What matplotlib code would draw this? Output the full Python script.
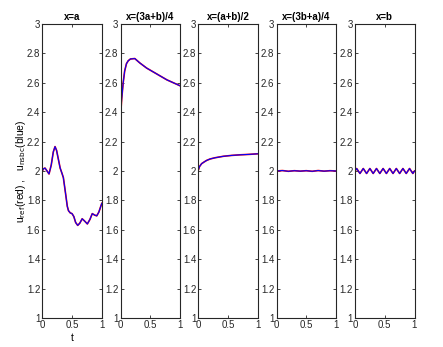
import numpy as np
import matplotlib.pyplot as plt
from matplotlib.ticker import FuncFormatter

# sampled solution traces at five spatial locations
titles = ["x=a", "x=(3a+b)/4", "x=(a+b)/2", "x=(3b+a)/4", "x=b"]

t_a = [0.0, 0.02, 0.045, 0.08, 0.113, 0.15, 0.185, 0.214, 0.24, 0.27, 0.30, 0.33, 0.354,
       0.39, 0.42, 0.44, 0.47, 0.50, 0.53, 0.56, 0.595, 0.63, 0.67, 0.71, 0.757, 0.80,
       0.84, 0.88, 0.915, 0.95, 1.0]
u_a = [2.00, 2.015, 2.02, 2.00, 1.98, 2.04, 2.13, 2.166, 2.14, 2.08, 2.02, 1.985, 1.955,
       1.85, 1.76, 1.73, 1.715, 1.71, 1.69, 1.65, 1.63, 1.645, 1.675, 1.66, 1.64, 1.67,
       1.71, 1.70, 1.695, 1.72, 1.78]

t_q1 = [0.0, 0.02, 0.045, 0.07, 0.10, 0.13, 0.167, 0.24, 0.325, 0.44, 0.61, 0.78, 1.0]
u_q1 = [2.37, 2.49, 2.60, 2.68, 2.73, 2.75, 2.762, 2.765, 2.735, 2.70, 2.66, 2.62, 2.58]

t_mid = [0.0, 0.02, 0.056, 0.10, 0.14, 0.20, 0.28, 0.42, 0.56, 0.70, 0.85, 1.0]
u_mid = [2.005, 2.03, 2.05, 2.062, 2.072, 2.082, 2.09, 2.10, 2.106, 2.11, 2.113, 2.117]

t_q3 = [0.0, 0.1, 0.2, 0.3, 0.4, 0.5, 0.6, 0.7, 0.8, 0.9, 1.0]
u_q3 = [2.0, 2.003, 1.998, 2.002, 1.999, 2.002, 1.998, 2.003, 1.999, 2.002, 2.0]

# x=b trace, sampled every 1/36 in t
t_b = np.linspace(0, 1, 37)
u_b = [2.000, 2.017, 2.000, 1.983, 2.000, 2.017, 2.000, 1.983, 2.000, 2.017,
       2.000, 1.983, 2.000, 2.017, 2.000, 1.983, 2.000, 2.017, 2.000, 1.983,
       2.000, 2.017, 2.000, 1.983, 2.000, 2.017, 2.000, 1.983, 2.000, 2.017,
       2.000, 1.983, 2.000, 2.017, 2.000, 1.983, 2.000]

series = [(t_a, u_a), (t_q1, u_q1), (t_mid, u_mid), (t_q3, u_q3), (t_b, u_b)]

plt.rcParams['font.family'] = ['Liberation Sans', 'DejaVu Sans']

fig = plt.figure(figsize=(4.43, 3.47), dpi=100)
W, H = 443.0, 347.0
lefts = [42.3, 120.5, 198.3, 276.5, 355.0]
width = 59.5
top, bottom = 24.0, 318.0

for i, (left, title, (t, u)) in enumerate(zip(lefts, titles, series)):
    ax = fig.add_axes([left / W, 1 - bottom / H, width / W, (bottom - top) / H])
    ax.plot(t, u, color='red', lw=1.2)
    ax.plot(t, u, color='blue', lw=0.8)
    ax.set_xlim(0, 1)
    ax.set_ylim(1, 3)
    ax.set_xticks([0, 0.5, 1])
    ax.set_yticks(np.arange(1, 3.01, 0.2))
    ax.xaxis.set_major_formatter(FuncFormatter(lambda v, p: f"{v:g}"))
    ax.yaxis.set_major_formatter(FuncFormatter(lambda v, p: f"{round(v, 1):g}"))
    ax.tick_params(direction='in', length=2.5, width=0.6, labelsize=7,
                   top=True, right=True, pad=1.5, colors='#262626')
    for s in ax.spines.values():
        s.set_linewidth(0.8)
        s.set_color('#262626')
    ax.set_title(title, fontsize=7, fontweight='bold', pad=3)
    if i == 0:
        ax.set_xlabel('t', fontsize=7.5, labelpad=2)
        ax.set_ylabel(r'u$_{\rm ref}$(red) ,   u$_{\rm nsbc}$(blue)', fontsize=7.5, labelpad=-1)

fig.savefig('out.png', dpi=100)
